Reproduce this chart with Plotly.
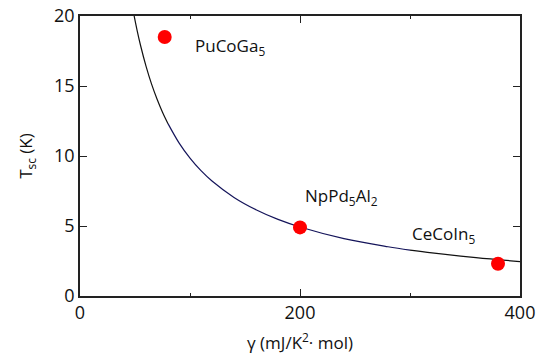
import plotly.graph_objects as go

# Superconducting compounds: Sommerfeld coefficient vs. transition temperature
compounds = ["PuCoGa<sub>5</sub>", "NpPd<sub>5</sub>Al<sub>2</sub>", "CeCoIn<sub>5</sub>"]
gamma = [77, 200, 380]
tsc = [18.5, 4.9, 2.3]

# Hyperbolic guide curve T_sc ~ 1/gamma, sampled values
curve_gamma = [49, 52, 55, 60, 65, 70, 75, 80, 90, 100, 110, 120, 140, 160, 180, 200,
               240, 280, 300, 320, 360, 400]
curve_tsc = [20.10, 18.94, 17.91, 16.42, 15.15, 14.07, 13.13, 12.31, 10.94, 9.85, 8.95,
             8.21, 7.04, 6.16, 5.47, 4.93, 4.10, 3.52, 3.28, 3.08, 2.74, 2.46]

# label anchor offsets (data units) for each compound name
label_dx = [26, 3, -80]
label_dy = [-0.7, 2.2, 2.1]

FONT = "Open Sans"
FS = 18

fig = go.Figure()

# guide curve drawn in three colour segments
segments = [(0, 8, "#111111"), (7, 19, "#14145a"), (18, 22, "#111111")]
for a, b, col in segments:
    fig.add_trace(go.Scatter(
        x=curve_gamma[a:b], y=curve_tsc[a:b], mode="lines",
        line=dict(color=col, width=1.2, shape="spline"),
        hoverinfo="skip", showlegend=False,
    ))

fig.add_trace(go.Scatter(
    x=gamma, y=tsc, mode="markers",
    marker=dict(color="#ff0000", size=14, line=dict(width=0)),
    showlegend=False,
))

for name, g, t, dx, dy in zip(compounds, gamma, tsc, label_dx, label_dy):
    fig.add_annotation(
        x=g + dx, y=t + dy, text=name, showarrow=False,
        xanchor="left", yanchor="middle",
        font=dict(family=FONT, size=FS - 1, color="#111111"),
    )

axis_common = dict(
    showline=True, linecolor="#222222", linewidth=1.5, mirror="allticks",
    ticks="inside", tickcolor="#222222", tickwidth=1.2,
    showgrid=False, zeroline=False, automargin=False,
    tickfont=dict(family=FONT, size=FS, color="#111111"),
)

fig.update_xaxes(
    range=[0, 400], tickvals=[0, 200, 400], ticklen=7,
    minor=dict(tickvals=[100, 300], ticklen=3.5, ticks="inside",
               tickcolor="#222222", tickwidth=1.2),
    title=dict(text="γ (mJ/K<sup>2</sup>· mol)", font=dict(family=FONT, size=FS - 1, color="#111111"),
               standoff=14),
    **axis_common,
)
fig.update_yaxes(
    range=[0, 20], tickvals=[0, 5, 10, 15, 20], ticklen=7,
    title=dict(text="T<sub>sc</sub> (K)", font=dict(family=FONT, size=FS - 1, color="#111111"),
               standoff=17),
    **axis_common,
)

fig.update_layout(
    width=537, height=357,
    margin=dict(l=80, r=17, t=16, b=61),
    paper_bgcolor="white", plot_bgcolor="white",
)

fig.write_html("out.html")
